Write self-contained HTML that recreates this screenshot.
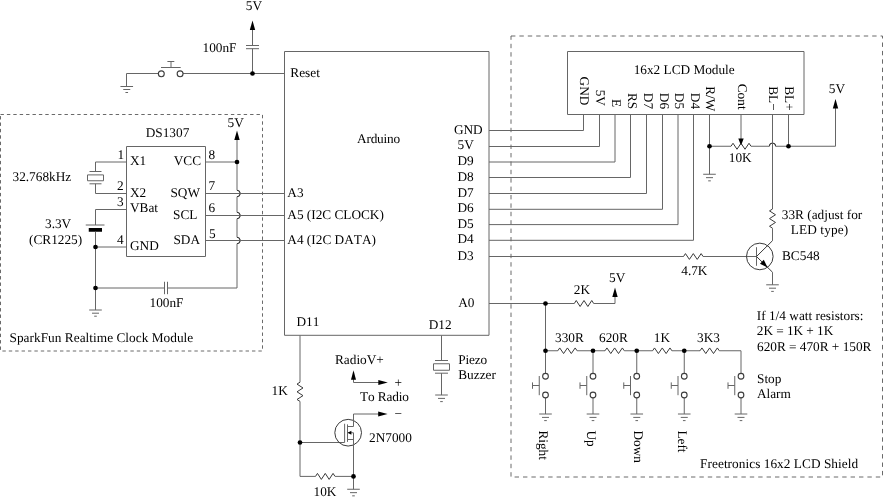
<!DOCTYPE html>
<html><head><meta charset="utf-8"><title>Arduino clock radio schematic</title>
<style>
html,body{margin:0;padding:0;background:#fff;}
body{width:884px;height:497px;overflow:hidden;font-family:"Liberation Serif",serif;}
svg{display:block;}
</style></head><body>
<svg width="884" height="497" viewBox="0 0 884 497">
<rect width="884" height="497" fill="#fff"/>
<g fill="none" stroke="#666666" stroke-width="1">
<path d="M0.5 114.5H262.5V351H0.5Z" stroke-dasharray="3.4 3" stroke="#6a6a6a"/>
<path d="M511 36H882.5V477H511Z" stroke-dasharray="4.4 4" stroke="#6a6a6a"/>
<path d="M252.5 29L252.5 45.5" />
<path d="M246 45.5L259 45.5" />
<path d="M246 48.7L259 48.7" />
<path d="M252.5 48.7L252.5 73.5" />
<path d="M183 73.5L284.5 73.5" />
<path d="M158.3 73.5L126.5 73.5L126.5 86.5" />
<path d="M120.45 86.5L133.05 86.5" />
<path d="M123.25 89.5L130.25 89.5" />
<path d="M125.45 92.5L128.05 92.5" />
<path d="M161 67.5L180.7 67.5" />
<path d="M171 61.5L171 67.5" />
<path d="M167.4 61.5L174.3 61.5" />
<circle cx="161.3" cy="73.8" r="2.95" fill="#fff" stroke="#3c3c3c" stroke-width="1.1"/>
<circle cx="180.1" cy="73.8" r="2.95" fill="#fff" stroke="#3c3c3c" stroke-width="1.1"/>
<path d="M284.5 51.5H489V335.3H284.5Z"/>
<path d="M126.5 146.5H205.5V256.5H126.5Z"/>
<path d="M126.5 162L95.5 162L95.5 171.5" />
<path d="M89.5 171.5L101.5 171.5" />
<path d="M87.5 174.9H103.5V180.75H87.5Z"/>
<path d="M89.5 183.8L101.5 183.8" />
<path d="M95.5 183.8L95.5 193.5L126.5 193.5" />
<path d="M126.5 209.5L95.5 209.5L95.5 225" />
<path d="M85.75 225L104.5 225" />
<path d="M88.75 228H102V231.75H88.75Z" fill="#000" stroke="none"/>
<path d="M95.5 231.75L95.5 310" />
<path d="M89.2 310L101.8 310" />
<path d="M92.0 313.2L99.0 313.2" />
<path d="M94.2 316.2L96.8 316.2" />
<path d="M95.5 247L126.5 247" />
<path d="M95.5 288L164.5 288" />
<path d="M167.5 288L237 288" />
<path d="M164.5 281.75L164.5 294.2" />
<path d="M167.5 281.75L167.5 294.2" />
<path d="M237 139L237 190.3A3.2 3.2 0 0 1 237 196.7L237 212.3A3.2 3.2 0 0 1 237 218.7L237 237.3A3.2 3.2 0 0 1 237 243.7L237 288"/>
<path d="M237 190.3A3.2 3.2 0 0 1 237 196.7" stroke="#3a3a3a"/>
<path d="M237 212.3A3.2 3.2 0 0 1 237 218.7" stroke="#3a3a3a"/>
<path d="M237 237.3A3.2 3.2 0 0 1 237 243.7" stroke="#3a3a3a"/>
<path d="M205.5 162L237 162" />
<path d="M205.5 193.5L284.5 193.5" />
<path d="M205.5 215.5L284.5 215.5" />
<path d="M205.5 240.5L284.5 240.5" />
<path d="M300 335.5L300 382.2" />
<path d="M300 382.2L297.0 384.12L303.0 387.96L297.0 391.8L303.0 395.64L297.0 399.48L300 401.4" stroke="#3a3a3a"/>
<path d="M300 401.4L300 476.4L315.5 476.4" />
<path d="M315.5 476.4L317.45 473.4L321.35 479.4L325.25 473.4L329.15 479.4L333.05 473.4L335.0 476.4" stroke="#3a3a3a"/>
<path d="M335 476.4L353.5 476.4" />
<path d="M300 442.5L344.6 442.5" />
<circle cx="348.15" cy="432.7" r="13.35" stroke="#3a3a3a"/>
<path d="M344.6 423.75L344.6 442.5" />
<path d="M347.5 424.4L347.5 441.9" />
<path d="M347.5 426.5L353.5 426.5" />
<path d="M347.5 432.75L353.5 432.75" />
<path d="M347.5 439.5L353.5 439.5" />
<path d="M353.5 432.75L353.5 489.25" />
<path d="M353.5 426.5L353.5 414L379 414" />
<path d="M347.2 489.25L359.8 489.25" />
<path d="M350.0 492.65L357.0 492.65" />
<path d="M352.2 495.85L354.8 495.85" />
<path d="M353.5 379L353.5 382.5L379 382.5" />
<path d="M441.5 335.5L441.5 360.5" />
<path d="M435 360.5L448 360.5" />
<path d="M433.5 363.75H449.5V370.25H433.5Z"/>
<path d="M435 373.2L448 373.2" />
<path d="M441.5 373.2L441.5 395" />
<path d="M435.2 395L447.8 395" />
<path d="M438.0 398.4L445.0 398.4" />
<path d="M440.2 401.6L442.8 401.6" />
<path d="M489 130.5L583.5 130.5L583.5 114.5" />
<path d="M489 146.5L599.5 146.5L599.5 114.5" />
<path d="M489 162.0L615.0 162.0L615.0 114.5" />
<path d="M489 177.5L630.5 177.5L630.5 114.5" />
<path d="M489 193.5L646.5 193.5L646.5 114.5" />
<path d="M489 209.3L662.5 209.3L662.5 114.5" />
<path d="M489 224.6L678.0 224.6L678.0 114.5" />
<path d="M489 240.3L693.5 240.3L693.5 114.5" />
<path d="M489 256.5L683.5 256.5" />
<path d="M683.5 256.5L685.46 253.6L689.38 259.4L693.3 253.6L697.22 259.4L701.14 253.6L703.1 256.5" stroke="#3a3a3a"/>
<path d="M703 256.5L756.5 256.5" />
<path d="M567.5 51.5H804V114.5H567.5Z"/>
<path d="M709.5 114.5L709.5 174.25" />
<path d="M703.2 174.25L715.8 174.25" />
<path d="M706.0 177.65L713.0 177.65" />
<path d="M708.2 180.85L710.8 180.85" />
<path d="M741 114.5L741 139" />
<path d="M709.5 146.25L731 146.25" />
<path d="M731 146.25L733.0 143.25L737.0 149.25L741.0 143.25L745.0 149.25L749.0 143.25L751 146.25" stroke="#3a3a3a"/>
<path d="M751 146.25L769.3 146.25A3.2 3.2 0 0 1 775.7 146.25L835.5 146.25L835.5 107"/>
<path d="M769.3 146.25A3.2 3.2 0 0 1 775.7 146.25" stroke="#3a3a3a"/>
<path d="M788.5 114.5L788.5 146.25" />
<path d="M772.5 114.5L772.5 209" />
<path d="M772.5 209L769.5 210.92L775.5 214.76L769.5 218.6L775.5 222.44L769.5 226.28L772.5 228.2" stroke="#3a3a3a"/>
<path d="M772.5 228.2L772.5 240.7" />
<circle cx="759.8" cy="256.45" r="13.3" stroke="#3a3a3a"/>
<path d="M756.5 247.2L756.5 265.8" />
<path d="M756.5 256.5L772.5 240.7" stroke="#3a3a3a"/>
<path d="M756.5 256.5L772.5 272.2" stroke="#3a3a3a"/>
<path d="M772.5 272.2L772.5 284.8" />
<path d="M766.2 284.8L778.8 284.8" />
<path d="M769.0 288.2L776.0 288.2" />
<path d="M771.2 291.40000000000003L773.8 291.40000000000003" />
<path d="M489 303.5L574.3 303.5" />
<path d="M574.3 303.5L576.24 300.5L580.12 306.5L584.0 300.5L587.88 306.5L591.76 300.5L593.7 303.5" stroke="#3a3a3a"/>
<path d="M593.7 303.5L615 303.5L615 296" />
<path d="M545.5 303.5L545.5 350.75" />
<path d="M545.5 350.75L557.8 350.75" />
<path d="M557.8 350.75L559.73 347.95L563.59 353.55L567.45 347.95L571.31 353.55L575.17 347.95L577.1 350.75" stroke="#3a3a3a"/>
<path d="M577.0999999999999 350.75L605.0 350.75" />
<path d="M605.0 350.75L606.93 347.95L610.79 353.55L614.65 347.95L618.51 353.55L622.37 347.95L624.3 350.75" stroke="#3a3a3a"/>
<path d="M624.3 350.75L652.6 350.75" />
<path d="M652.6 350.75L654.53 347.95L658.39 353.55L662.25 347.95L666.11 353.55L669.97 347.95L671.9 350.75" stroke="#3a3a3a"/>
<path d="M671.9 350.75L700.0 350.75" />
<path d="M700.0 350.75L701.93 347.95L705.79 353.55L709.65 347.95L713.51 353.55L717.37 347.95L719.3 350.75" stroke="#3a3a3a"/>
<path d="M719.3 350.75L741 350.75" />
<path d="M545.5 350.75L545.5 373.5" />
<path d="M545.5 397.8L545.5 414.0" />
<circle cx="545.5" cy="376.25" r="2.85" fill="#fff" stroke="#3c3c3c" stroke-width="1.1"/>
<circle cx="545.5" cy="395.0" r="2.85" fill="#fff" stroke="#3c3c3c" stroke-width="1.1"/>
<path d="M539.25 376L539.25 395.2" />
<path d="M532.5 385.5L539.25 385.5" />
<path d="M532.5 382.4L532.5 388.8" />
<path d="M539.2 414.0L551.8 414.0" />
<path d="M542.0 417.4L549.0 417.4" />
<path d="M544.2 420.6L546.8 420.6" />
<path d="M593 350.75L593 373.5" />
<path d="M593 397.8L593 414.0" />
<circle cx="593" cy="376.25" r="2.85" fill="#fff" stroke="#3c3c3c" stroke-width="1.1"/>
<circle cx="593" cy="395.0" r="2.85" fill="#fff" stroke="#3c3c3c" stroke-width="1.1"/>
<path d="M586.75 376L586.75 395.2" />
<path d="M580 385.5L586.75 385.5" />
<path d="M580 382.4L580 388.8" />
<path d="M586.7 414.0L599.3 414.0" />
<path d="M589.5 417.4L596.5 417.4" />
<path d="M591.7 420.6L594.3 420.6" />
<path d="M636.75 350.75L636.75 373.5" />
<path d="M636.75 397.8L636.75 414.0" />
<circle cx="636.75" cy="376.25" r="2.85" fill="#fff" stroke="#3c3c3c" stroke-width="1.1"/>
<circle cx="636.75" cy="395.0" r="2.85" fill="#fff" stroke="#3c3c3c" stroke-width="1.1"/>
<path d="M630.5 376L630.5 395.2" />
<path d="M623.75 385.5L630.5 385.5" />
<path d="M623.75 382.4L623.75 388.8" />
<path d="M630.45 414.0L643.05 414.0" />
<path d="M633.25 417.4L640.25 417.4" />
<path d="M635.45 420.6L638.05 420.6" />
<path d="M684.25 350.75L684.25 373.5" />
<path d="M684.25 397.8L684.25 414.0" />
<circle cx="684.25" cy="376.25" r="2.85" fill="#fff" stroke="#3c3c3c" stroke-width="1.1"/>
<circle cx="684.25" cy="395.0" r="2.85" fill="#fff" stroke="#3c3c3c" stroke-width="1.1"/>
<path d="M678.0 376L678.0 395.2" />
<path d="M671.25 385.5L678.0 385.5" />
<path d="M671.25 382.4L671.25 388.8" />
<path d="M677.95 414.0L690.55 414.0" />
<path d="M680.75 417.4L687.75 417.4" />
<path d="M682.95 420.6L685.55 420.6" />
<path d="M741 350.75L741 373.5" />
<path d="M741 397.8L741 414.0" />
<circle cx="741" cy="376.25" r="2.85" fill="#fff" stroke="#3c3c3c" stroke-width="1.1"/>
<circle cx="741" cy="395.0" r="2.85" fill="#fff" stroke="#3c3c3c" stroke-width="1.1"/>
<path d="M734.75 376L734.75 395.2" />
<path d="M728 385.5L734.75 385.5" />
<path d="M728 382.4L728 388.8" />
<path d="M734.7 414.0L747.3 414.0" />
<path d="M737.5 417.4L744.5 417.4" />
<path d="M739.7 420.6L742.3 420.6" />
</g>
<path d="M252.5 20.5L255.2 30.0L249.8 30.0Z" fill="#000" stroke="none"/>
<path d="M237 130.5L239.7 140.0L234.3 140.0Z" fill="#000" stroke="none"/>
<path d="M835.5 99L838.2 108.5L832.8 108.5Z" fill="#000" stroke="none"/>
<path d="M615 287.5L617.7 297.0L612.3 297.0Z" fill="#000" stroke="none"/>
<path d="M353.5 370.2L356.0 379.7L351.0 379.7Z" fill="#000" stroke="none"/>
<path d="M387.8 382.5L378.3 380.1L378.3 384.9Z" fill="#000" stroke="none"/>
<path d="M387.6 414L378.20000000000005 411.4L378.20000000000005 416.6Z" fill="#000" stroke="none"/>
<path d="M741 145.5L743.7 138.5L738.3 138.5Z" fill="#000" stroke="none"/>
<path d="M347.7 432.8L351.4 430.8L351.4 434.8Z" fill="#000"/>
<path d="M767.5 267.5L760.0 263.7L763.8 259.8Z" fill="#000"/>
<circle cx="252.5" cy="73.5" r="2.35" fill="#000" stroke="none"/>
<circle cx="237" cy="162" r="2.35" fill="#000" stroke="none"/>
<circle cx="95.5" cy="247" r="2.35" fill="#000" stroke="none"/>
<circle cx="95.5" cy="288" r="2.35" fill="#000" stroke="none"/>
<circle cx="300" cy="442.5" r="2.35" fill="#000" stroke="none"/>
<circle cx="353.5" cy="476.4" r="2.35" fill="#000" stroke="none"/>
<circle cx="709.5" cy="146.25" r="2.35" fill="#000" stroke="none"/>
<circle cx="788.5" cy="146.25" r="2.35" fill="#000" stroke="none"/>
<circle cx="545.5" cy="303.5" r="2.35" fill="#000" stroke="none"/>
<circle cx="545.5" cy="350.75" r="2.35" fill="#000" stroke="none"/>
<circle cx="593" cy="350.75" r="2.35" fill="#000" stroke="none"/>
<circle cx="636.75" cy="350.75" r="2.35" fill="#000" stroke="none"/>
<circle cx="684.25" cy="350.75" r="2.35" fill="#000" stroke="none"/>
<g fill="#000" font-family="'Liberation Serif', serif" font-size="13.3px" style="font-kerning:none;font-variant-ligatures:none;text-rendering:geometricPrecision;opacity:0.999">
<text x="245.75" y="10.4" text-anchor="start">5V</text>
<text x="202.5" y="51.5" text-anchor="start">100nF</text>
<text x="290.3" y="77.2" text-anchor="start">Reset</text>
<text x="227.5" y="126.75" text-anchor="start">5V</text>
<text x="145.7" y="137.1" text-anchor="start">DS1307</text>
<text x="117.5" y="159.0" text-anchor="start">1</text>
<text x="117.0" y="190.0" text-anchor="start">2</text>
<text x="117.0" y="205.5" text-anchor="start">3</text>
<text x="117.0" y="243.75" text-anchor="start">4</text>
<text x="208.5" y="159.0" text-anchor="start">8</text>
<text x="208.5" y="190.0" text-anchor="start">7</text>
<text x="208.5" y="211.75" text-anchor="start">6</text>
<text x="209.0" y="237.5" text-anchor="start">5</text>
<text x="130.0" y="165.0" text-anchor="start">X1</text>
<text x="130.0" y="197.0" text-anchor="start">X2</text>
<text x="130.0" y="212.0" text-anchor="start">VBat</text>
<text x="130.0" y="250.0" text-anchor="start">GND</text>
<text x="201" y="165.0" text-anchor="end">VCC</text>
<text x="200" y="197.0" text-anchor="end">SQW</text>
<text x="197.5" y="219.0" text-anchor="end">SCL</text>
<text x="200" y="243.75" text-anchor="end">SDA</text>
<text x="12.5" y="181.0" text-anchor="start">32.768kHz</text>
<text x="45.0" y="227.5" text-anchor="start">3.3V</text>
<text x="29.0" y="243.75" text-anchor="start">(CR1225)</text>
<text x="149.5" y="306.75" text-anchor="start">100nF</text>
<text x="9.5" y="341.75" text-anchor="start" textLength="183.7" lengthAdjust="spacing">SparkFun Realtime Clock Module</text>
<text x="357.0" y="142.5" text-anchor="start" textLength="43.2" lengthAdjust="spacing">Arduino</text>
<text x="287.3" y="196.75" text-anchor="start">A3</text>
<text x="287.3" y="218.75" text-anchor="start" textLength="96.6" lengthAdjust="spacing">A5 (I2C CLOCK)</text>
<text x="287.3" y="243.75" text-anchor="start">A4 (I2C DATA)</text>
<text x="296.5" y="325.5" text-anchor="start">D11</text>
<text x="428.75" y="328.75" text-anchor="start">D12</text>
<text x="458.25" y="306.75" text-anchor="start">A0</text>
<text x="453.9" y="133.7" text-anchor="start">GND</text>
<text x="457.5" y="148.9" text-anchor="start">5V</text>
<text x="457.5" y="164.7" text-anchor="start">D9</text>
<text x="457.5" y="180.6" text-anchor="start">D8</text>
<text x="457.5" y="196.7" text-anchor="start">D7</text>
<text x="457.5" y="211.9" text-anchor="start">D6</text>
<text x="457.5" y="227.5" text-anchor="start">D5</text>
<text x="457.5" y="243.4" text-anchor="start">D4</text>
<text x="457.5" y="259.7" text-anchor="start">D3</text>
<text x="271.5" y="394.5" text-anchor="start">1K</text>
<text x="335.0" y="363.75" text-anchor="start">RadioV+</text>
<text x="360.0" y="400.75" text-anchor="start" textLength="48.9" lengthAdjust="spacing">To Radio</text>
<text x="394.5" y="387.0" text-anchor="start">+</text>
<text x="394.5" y="417.5" text-anchor="start">−</text>
<text x="369.0" y="441.75" text-anchor="start">2N7000</text>
<text x="313.5" y="495.5" text-anchor="start">10K</text>
<text x="458.25" y="363.75" text-anchor="start" textLength="28.8" lengthAdjust="spacing">Piezo</text>
<text x="458.25" y="378.75" text-anchor="start">Buzzer</text>
<text x="633.7" y="73.75" text-anchor="start" textLength="101.0" lengthAdjust="spacing">16x2 LCD Module</text>
<text transform="translate(580.0 76.6) rotate(90)" text-anchor="start">GND</text>
<text transform="translate(596.2 89.7) rotate(90)" text-anchor="start">5V</text>
<text transform="translate(612.1 98.9) rotate(90)" text-anchor="start">E</text>
<text transform="translate(628.0 92.9) rotate(90)" text-anchor="start">RS</text>
<text transform="translate(643.7 92.8) rotate(90)" text-anchor="start">D7</text>
<text transform="translate(659.6 92.8) rotate(90)" text-anchor="start">D6</text>
<text transform="translate(675.4 92.8) rotate(90)" text-anchor="start">D5</text>
<text transform="translate(691.3 92.8) rotate(90)" text-anchor="start">D4</text>
<text transform="translate(706.3 86.2) rotate(90)" text-anchor="start">R/W</text>
<text transform="translate(737.5 83.75) rotate(90)" text-anchor="start">Cont</text>
<text transform="translate(768.75 86.25) rotate(90)" text-anchor="start">BL−</text>
<text transform="translate(784.75 86.25) rotate(90)" text-anchor="start">BL+</text>
<text x="828.75" y="92.5" text-anchor="start">5V</text>
<text x="728.75" y="161.75" text-anchor="start">10K</text>
<text x="781.75" y="218.75" text-anchor="start" textLength="80.5" lengthAdjust="spacing">33R (adjust for</text>
<text x="790.75" y="233.75" text-anchor="start" textLength="57.4" lengthAdjust="spacing">LED type)</text>
<text x="782.0" y="259.5" text-anchor="start">BC548</text>
<text x="681.25" y="275.0" text-anchor="start">4.7K</text>
<text x="573.75" y="293.75" text-anchor="start">2K</text>
<text x="609.0" y="282.3" text-anchor="start">5V</text>
<text x="555.0" y="342.0" text-anchor="start">330R</text>
<text x="599.0" y="342.0" text-anchor="start">620R</text>
<text x="653.75" y="342.0" text-anchor="start">1K</text>
<text x="697.0" y="342.0" text-anchor="start">3K3</text>
<text x="756.8" y="320.1" text-anchor="start" textLength="106.7" lengthAdjust="spacing">If 1/4 watt resistors:</text>
<text x="756.8" y="334.9" text-anchor="start" textLength="76.5" lengthAdjust="spacing">2K = 1K + 1K</text>
<text x="757.0" y="350.9" text-anchor="start" textLength="114.4" lengthAdjust="spacing">620R = 470R + 150R</text>
<text x="757.0" y="382.5" text-anchor="start">Stop</text>
<text x="757.0" y="397.6" text-anchor="start" textLength="33.8" lengthAdjust="spacing">Alarm</text>
<text x="700.1" y="467.6" text-anchor="start" textLength="158.0" lengthAdjust="spacing">Freetronics 16x2 LCD Shield</text>
<text transform="translate(539.4 430.4) rotate(90)" text-anchor="start">Right</text>
<text transform="translate(586.9 430.4) rotate(90)" text-anchor="start">Up</text>
<text transform="translate(633.6 430.4) rotate(90)" text-anchor="start">Down</text>
<text transform="translate(677.9 430.4) rotate(90)" text-anchor="start">Left</text>
</g>
</svg>
</body></html>
